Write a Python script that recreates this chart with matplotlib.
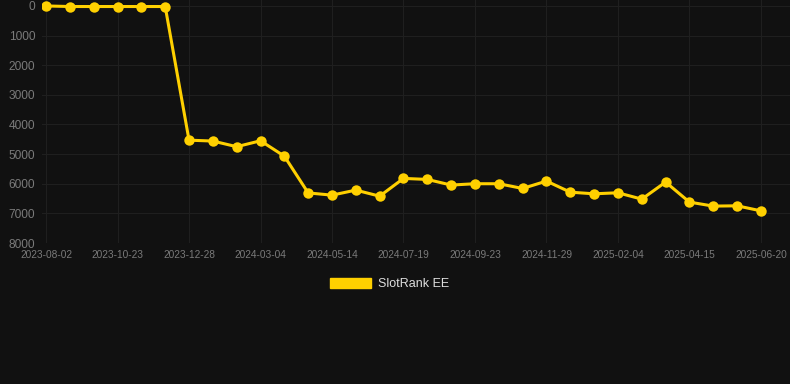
import matplotlib
matplotlib.use("Agg")
import matplotlib.pyplot as plt
import matplotlib.patches as mpatches

# rank per snapshot (lower is better, axis is inverted)
rank = [1, 20, 20, 20, 20, 20,
        4530, 4560, 4750, 4550, 5070,
        6310, 6385, 6215, 6420, 5820, 5855,
        6045, 6000, 6000, 6160, 5910, 6285,
        6340, 6305, 6520, 5945, 6620, 6755, 6745, 6915]
tick_labels = ["2023-08-02", "2023-10-23", "2023-12-28", "2024-03-04",
               "2024-05-14", "2024-07-19", "2024-09-23", "2024-11-29",
               "2025-02-04", "2025-04-15", "2025-06-20"]
series_name = "SlotRank EE"

bg = "#111111"
gold = "#FFD000"
plt.rcParams["font.family"] = ["Liberation Sans", "DejaVu Sans"]

fig = plt.figure(figsize=(7.9, 3.84), dpi=100, facecolor=bg)
ax = fig.add_axes([42 / 790, 1 - 243 / 384, 1 - 42 / 790, 243 / 384])
ax.set_facecolor(bg)

x = list(range(len(rank)))
ax.plot(x, rank, color=gold, linewidth=2.2, marker="o", markersize=7.5,
        markeredgewidth=0, zorder=3)

ax.set_ylim(8000, -200)
ax.set_xlim(-0.17, 31.22)
ax.set_yticks(range(0, 8001, 1000))
ax.set_xticks(range(0, len(rank), 3))
ax.set_xticklabels(tick_labels)

ax.grid(True, color="#1f1f1f", linewidth=0.8)
for s in ax.spines.values():
    s.set_visible(False)
ax.tick_params(axis="both", length=0, colors="#7a7a7a")
ax.tick_params(axis="y", labelsize=8.6, pad=5)
ax.tick_params(axis="x", labelsize=7.3, pad=5)

handle = mpatches.Patch(color=gold, label=series_name)
fig.legend(handles=[handle], loc="center", bbox_to_anchor=(0.493, 1 - 284 / 384),
           frameon=False, fontsize=9, labelcolor="#dddddd",
           handlelength=3.3, handleheight=0.9, handletextpad=0.5)

fig.savefig("out.png", dpi=100, facecolor=bg)
